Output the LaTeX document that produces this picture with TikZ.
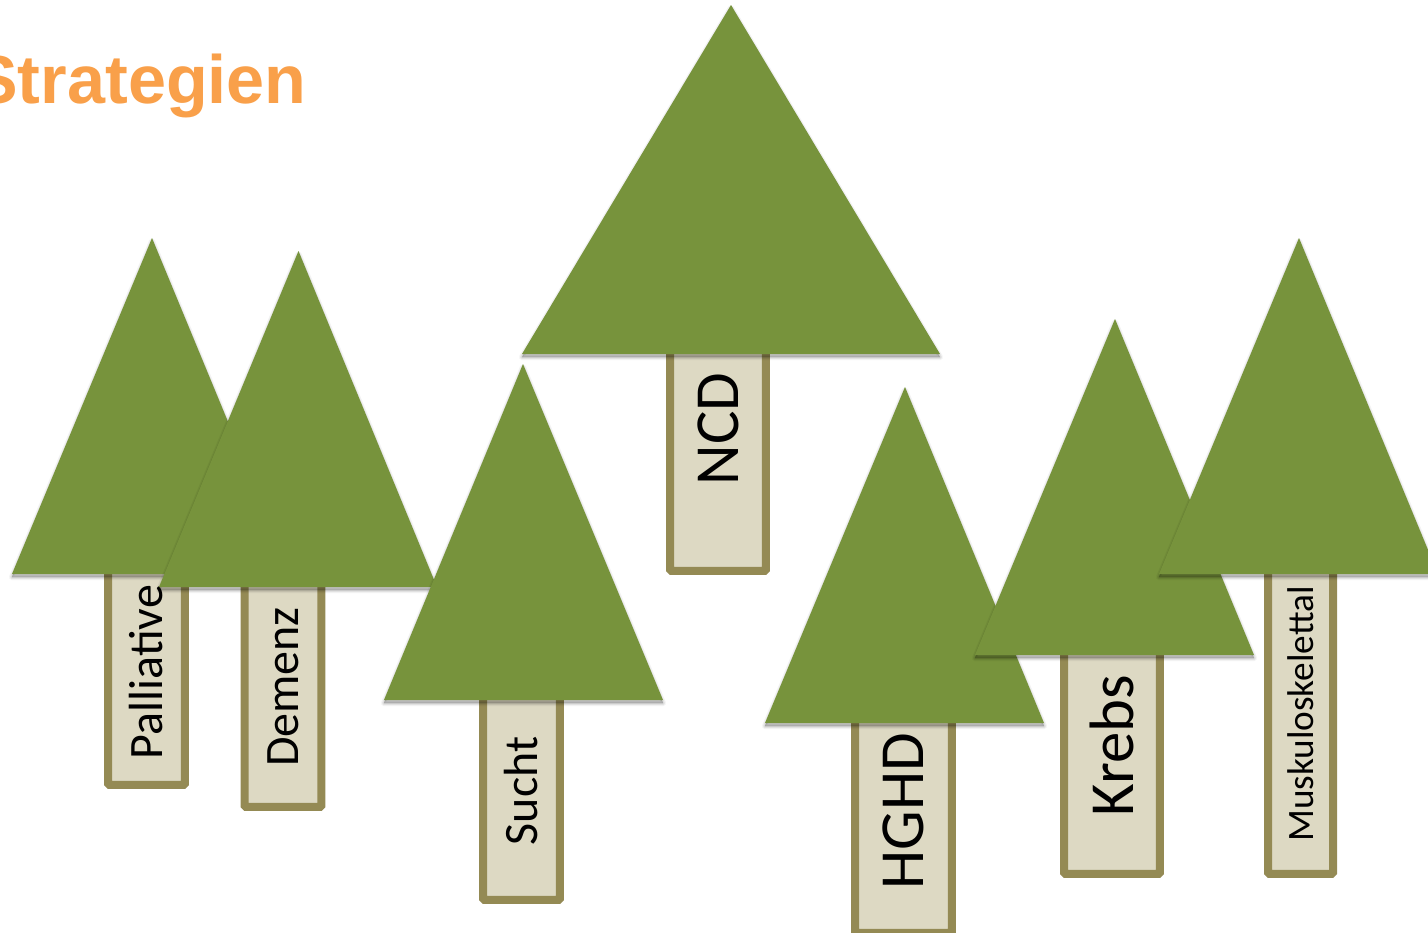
\documentclass[tikz,border=0pt]{standalone}
\usepackage{fontspec}
\setmainfont{Carlito}
\newfontfamily\titlefont{Liberation Sans}
\definecolor{crowngreen}{HTML}{77933C}
\definecolor{trunkfill}{HTML}{DDD9C3}
\definecolor{trunkline}{HTML}{948A54}
\definecolor{titleorange}{HTML}{F9A04A}
\tikzset{
  crown/.style={fill=crowngreen,
    preaction={draw=black,fill=black,line join=round,line width=3.4pt,opacity=.05,transform canvas={yshift=-1.8pt}},
    preaction={draw=black,fill=black,line join=round,line width=2pt,opacity=.07,transform canvas={yshift=-1.8pt}},
    preaction={draw=black,fill=black,line join=round,line width=.6pt,opacity=.10,transform canvas={yshift=-1.8pt}}},
  trunk/.style={draw=trunkline,fill=trunkfill,line width=.16cm,rounded corners=.8pt,
    rotate=90,inner sep=0pt,text=black},
  largetext/.style={font=\fontsize{35.7}{40}\selectfont},
  midtext/.style={font=\fontsize{27.3}{32}\selectfont},
  smalltext/.style={font=\fontsize{21.2}{25}\selectfont}
}
\begin{document}
\begin{tikzpicture}[x=.02cm,y=-.02cm]
      \useasboundingbox (0,0) rectangle (1428,933);
      \clip (0,0) rectangle (1428,933);

      \node[anchor=base west,text=titleorange,inner sep=0pt,font=\titlefont\bfseries\fontsize{38.9}{46}\selectfont]
        (title) at (-28,103) {Strategien};

      % Palliative
      \node[trunk,midtext,minimum width=4.52cm,minimum height=1.54cm] (palliative) at (146.5,672) {Palliative};
      \path[crown] (152,238) -- (291,574) -- (12,574) -- cycle;

      % Demenz
      \node[trunk,midtext,minimum width=4.8cm,minimum height=1.54cm] (demenz) at (283,687) {Demenz};
      \path[crown] (298.5,251) -- (437,587) -- (159,587) -- cycle;

      % Sucht
      \node[trunk,midtext,minimum width=4.36cm,minimum height=1.54cm] (sucht) at (521.5,791) {Sucht};
      \path[crown] (523,364) -- (663,700) -- (384,700) -- cycle;

      % NCD
      \node[trunk,largetext,minimum width=5.68cm,minimum height=1.92cm] (ncd) at (718,429) {NCD};
      \path[crown] (731,5) -- (940,354) -- (522,354) -- cycle;

      % HGHD
      \node[trunk,largetext,minimum width=4.88cm,minimum height=1.94cm] (hghd) at (903.5,811) {HGHD};
      \path[crown] (905,387) -- (1044,723) -- (765,723) -- cycle;

      % Krebs
      \node[trunk,largetext,minimum width=5.12cm,minimum height=1.92cm] (krebs) at (1112,746) {Krebs};
      \path[crown] (1115,319) -- (1254,655) -- (975,655) -- cycle;

      % Muskuloskelettal
      \node[trunk,smalltext,minimum width=6.4cm,minimum height=1.3cm] (muskulo) at (1300.5,714) {Muskuloskelettal};
      \path[crown] (1299,238) -- (1438,574) -- (1159,574) -- cycle;

    \end{tikzpicture}
\end{document}
